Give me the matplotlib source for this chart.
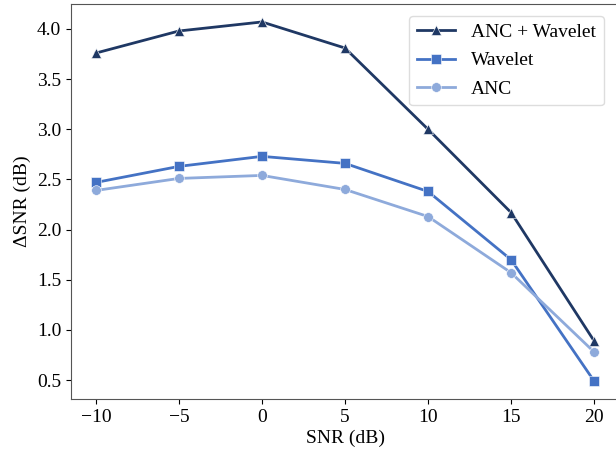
import matplotlib
matplotlib.use("Agg")
import matplotlib.pyplot as plt

plt.rcParams['font.family'] = ['Liberation Serif', 'DejaVu Serif']
plt.rcParams['mathtext.fontset'] = 'stix'

snr = [-10, -5, 0, 5, 10, 15, 20]
anc_wavelet = [3.76, 3.98, 4.07, 3.81, 3.00, 2.17, 0.89]
wavelet = [2.47, 2.63, 2.73, 2.66, 2.38, 1.70, 0.49]
anc = [2.39, 2.51, 2.54, 2.40, 2.13, 1.57, 0.78]

fig = plt.figure(figsize=(6.16, 4.54), dpi=100)
ax = fig.add_axes([71/616, 1 - 399/454, 548/616, 395/454])

ax.plot(snr, anc_wavelet, color='#1f3864', marker='^', lw=2.0, ms=7,
        mec='white', mew=0.4, label='ANC + Wavelet')
ax.plot(snr, wavelet, color='#4472c4', marker='s', lw=2.0, ms=7,
        mec='white', mew=0.4, label='Wavelet')
ax.plot(snr, anc, color='#8eaadb', marker='o', lw=2.0, ms=7,
        mec='white', mew=0.4, label='ANC')

ax.set_xticks(snr)
ax.set_yticks([0.5, 1.0, 1.5, 2.0, 2.5, 3.0, 3.5, 4.0])
ax.tick_params(labelsize=14)
ax.set_xlabel('SNR (dB)', fontsize=14, labelpad=3)
ax.set_ylabel('ΔSNR (dB)', fontsize=14)
for s in ax.spines.values():
    s.set_color('#555555')

ax.legend(loc='upper right', fontsize=14, bbox_to_anchor=(0.99, 0.995),
          framealpha=1, edgecolor='#dddddd', labelspacing=0.55)

fig.savefig('out.png', dpi=100)
